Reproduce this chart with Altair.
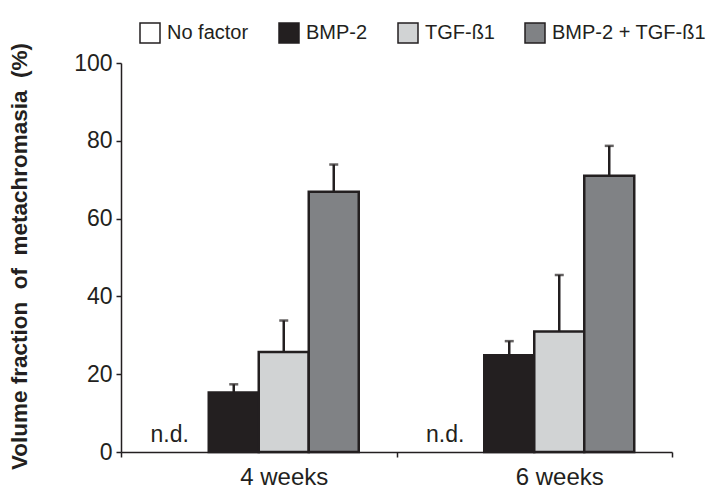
import altair as alt
import pandas as pd

weeks = ["4 weeks", "6 weeks"]
factors = ["No factor", "BMP-2", "TGF-ß1", "BMP-2 + TGF-ß1"]
colors = ["#ffffff", "#231f20", "#d1d3d4", "#808285"]
mean_4w = [None, 15.3, 25.7, 66.9]
mean_6w = [None, 24.9, 31.0, 71.0]
sd_4w = [None, 2.1, 8.1, 7.0]
sd_6w = [None, 3.6, 14.5, 7.7]

rows = []
for w, means, sds in [(weeks[0], mean_4w, sd_4w), (weeks[1], mean_6w, sd_6w)]:
    for f, m, s in zip(factors, means, sds):
        rows.append({"week": w, "factor": f, "value": m,
                     "top": (m + s) if m is not None else None,
                     "nd": "n.d." if m is None else ""})
df = pd.DataFrame(rows)

FONT = "Liberation Sans"
INK = "#231f20"

x = alt.X("week:N", sort=weeks, title=None,
          scale=alt.Scale(paddingInner=0, paddingOuter=0),
          axis=alt.Axis(labelAngle=0, labelFontSize=24, labelFont=FONT, labelColor=INK,
                        tickBand="extent", tickSize=5, tickWidth=1.5, tickColor=INK,
                        domainColor=INK, domainWidth=1.5, labelPadding=8, labelOffset=25))
xo = alt.XOffset("factor:N", sort=factors,
                 scale=alt.Scale(domain=factors, paddingInner=0, paddingOuter=0.755))
y = alt.Y("value:Q", scale=alt.Scale(domain=[0, 100], nice=False),
          title="Volume fraction\u00a0\u00a0of\u00a0\u00a0metachromasia\u00a0\u00a0(%)",
          axis=alt.Axis(values=[0, 20, 40, 60, 80, 100], grid=False, labelFontSize=23,
                        labelFont=FONT, labelColor=INK, tickSize=5, tickWidth=1.5,
                        tickColor=INK, domainColor=INK, domainWidth=1.5, labelPadding=4,
                        titleFont=FONT, titleFontSize=22.5, titleFontWeight="bold",
                        titleColor=INK, titlePadding=42, titleY=193))

base = alt.Chart(df)

bars = base.transform_filter("datum.value != null").mark_bar(
    stroke=INK, strokeWidth=2.5).encode(
    x=x, xOffset=xo, y=y,
    fill=alt.Fill("factor:N", sort=factors,
                  scale=alt.Scale(domain=factors, range=colors),
                  legend=alt.Legend(title=None, orient="none", direction="horizontal",
                                    legendX=18, legendY=-41, symbolType="square",
                                    symbolSize=400, symbolStrokeColor=INK,
                                    symbolStrokeWidth=1.5, symbolOpacity=1,
                                    labelFont=FONT, labelFontSize=20, labelColor=INK,
                                    labelOffset=6, columnPadding=27)),
)

err = base.transform_filter("datum.value != null").mark_rule(
    color=INK, strokeWidth=2.5).encode(
    x=x, xOffset=xo, y=alt.Y("value:Q"), y2="top:Q")

caps = base.transform_filter("datum.value != null").mark_tick(
    color=INK, thickness=2.5, size=9).encode(
    x=x, xOffset=xo, y=alt.Y("top:Q"))

nd = base.transform_filter("datum.value == null").transform_calculate(zero="0").mark_text(
    font=FONT, fontSize=23, color=INK, baseline="alphabetic", dy=-10, dx=-14).encode(
    x=x, xOffset=xo, y=alt.Y("zero:Q"), text="nd:N")

chart = alt.layer(bars, err, caps, nd).properties(
    width=551, height=389,
    autosize=alt.AutoSizeParams(type="none"),
    padding={"left": 113, "top": 55, "right": 36, "bottom": 40},
).configure_view(stroke=None)

chart.save("out.html", embed_options={"renderer": "svg", "actions": False})
